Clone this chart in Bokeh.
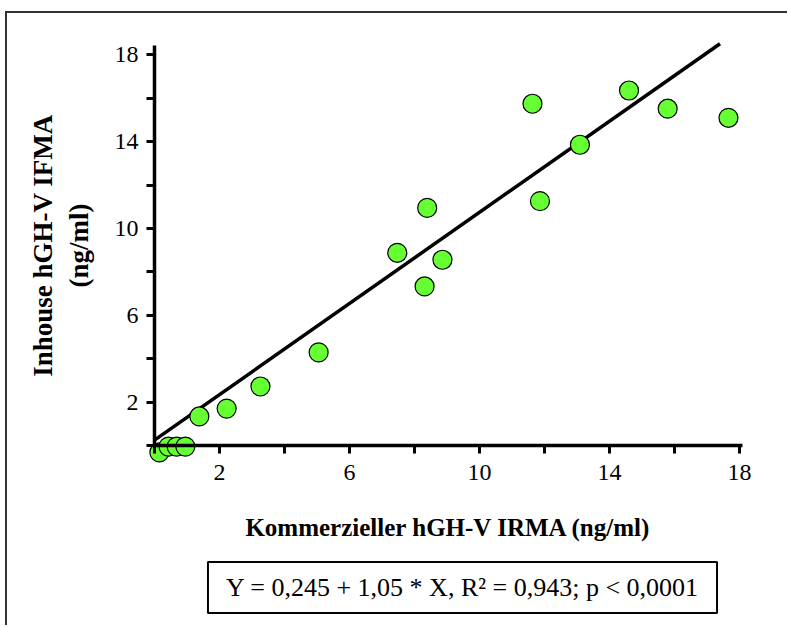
from bokeh.plotting import figure
from bokeh.models import FixedTicker, Label, Range1d
from bokeh.embed import file_html
from bokeh.resources import INLINE

# Data
x_irma = [0.15, 0.43, 0.68, 0.95, 1.38, 2.22, 3.26, 5.05, 7.47, 8.31, 8.39, 8.86,
          11.63, 11.86, 13.09, 14.60, 15.79, 17.66]
y_ifma = [-0.32, -0.05, -0.05, -0.05, 1.34, 1.70, 2.72, 4.29, 8.88, 7.33, 10.95, 8.56,
          15.75, 11.26, 13.86, 16.36, 15.52, 15.10]
intercept = 0.245
slope = 1.05
fit_x = [0.0, 17.4]
tick_vals = [0, 2, 4, 6, 8, 10, 12, 14, 16, 18]
tick_labels = {0: "", 2: "2", 4: "", 6: "6", 8: "", 10: "10", 12: "", 14: "14", 16: "", 18: "18"}
equation = "Y = 0,245 + 1,05 * X, R\u00b2 = 0,943; p < 0,0001"

FONT = "Liberation Serif"

W, H = 782, 614
X0, Y0 = 147, 432          # canvas pixel of data origin
SX, SY = 32.5, 21.7        # pixels per data unit

p = figure(width=W, height=H, output_backend="svg", toolbar_location=None,
           x_range=Range1d(-X0 / SX, (W - X0) / SX),
           y_range=Range1d(-(H - Y0) / SY, Y0 / SY))
p.min_border = 0
p.min_border_left = 0
p.min_border_right = 0
p.min_border_top = 0
p.min_border_bottom = 0
p.grid.visible = False
p.outline_line_color = None
p.background_fill_color = "white"
p.border_fill_color = "white"
p.styles = {"margin-left": "5px", "margin-top": "11px",
            "border-top": "2px solid #333333", "border-left": "2px solid #333333"}

for ax in (p.xaxis[0], p.yaxis[0]):
    ax.fixed_location = 0
    ax.ticker = FixedTicker(ticks=tick_vals)
    ax.major_label_overrides = tick_labels
    ax.minor_tick_line_color = None
    ax.major_tick_in = 0
    ax.major_tick_out = 8
    ax.major_tick_line_width = 3
    ax.axis_line_width = 3.5
    ax.axis_line_color = "black"
    ax.major_tick_line_color = "black"
    ax.major_label_text_font = FONT
    ax.major_label_text_font_size = "24px"
    ax.major_label_text_color = "black"
    ax.axis_label_text_font = FONT
    ax.axis_label_text_font_style = "bold"
    ax.axis_label_text_color = "black"

p.xaxis[0].bounds = (0, 18.1)
p.yaxis[0].bounds = (0, 18.45)
p.xaxis[0].major_label_standoff = 11
p.yaxis[0].major_label_standoff = 8
p.xaxis[0].axis_label = "Kommerzieller hGH-V IRMA (ng/ml)"
p.xaxis[0].axis_label_text_font_size = "25px"
p.xaxis[0].axis_label_standoff = 31
p.yaxis[0].axis_label = "Inhouse hGH-V IFMA\n(ng/ml)"
p.yaxis[0].axis_label_text_font_size = "27px"
p.yaxis[0].axis_label_standoff = 18

fit_y = [intercept + slope * v for v in fit_x]
p.line(fit_x, fit_y, line_color="black", line_width=3.5)

p.scatter(x_irma, y_ifma, size=19, fill_color="#66ff33", line_color="black", line_width=1.2)

eq = Label(x=455, y=40, x_units="screen", y_units="screen", text=equation,
           text_font=FONT, text_font_size="26px", text_color="black",
           text_align="center", text_baseline="middle",
           border_line_color="black", border_line_width=2,
           background_fill_color="white", padding=(18, 11))
p.add_layout(eq)

open("out.html", "w").write(file_html(p, INLINE))
